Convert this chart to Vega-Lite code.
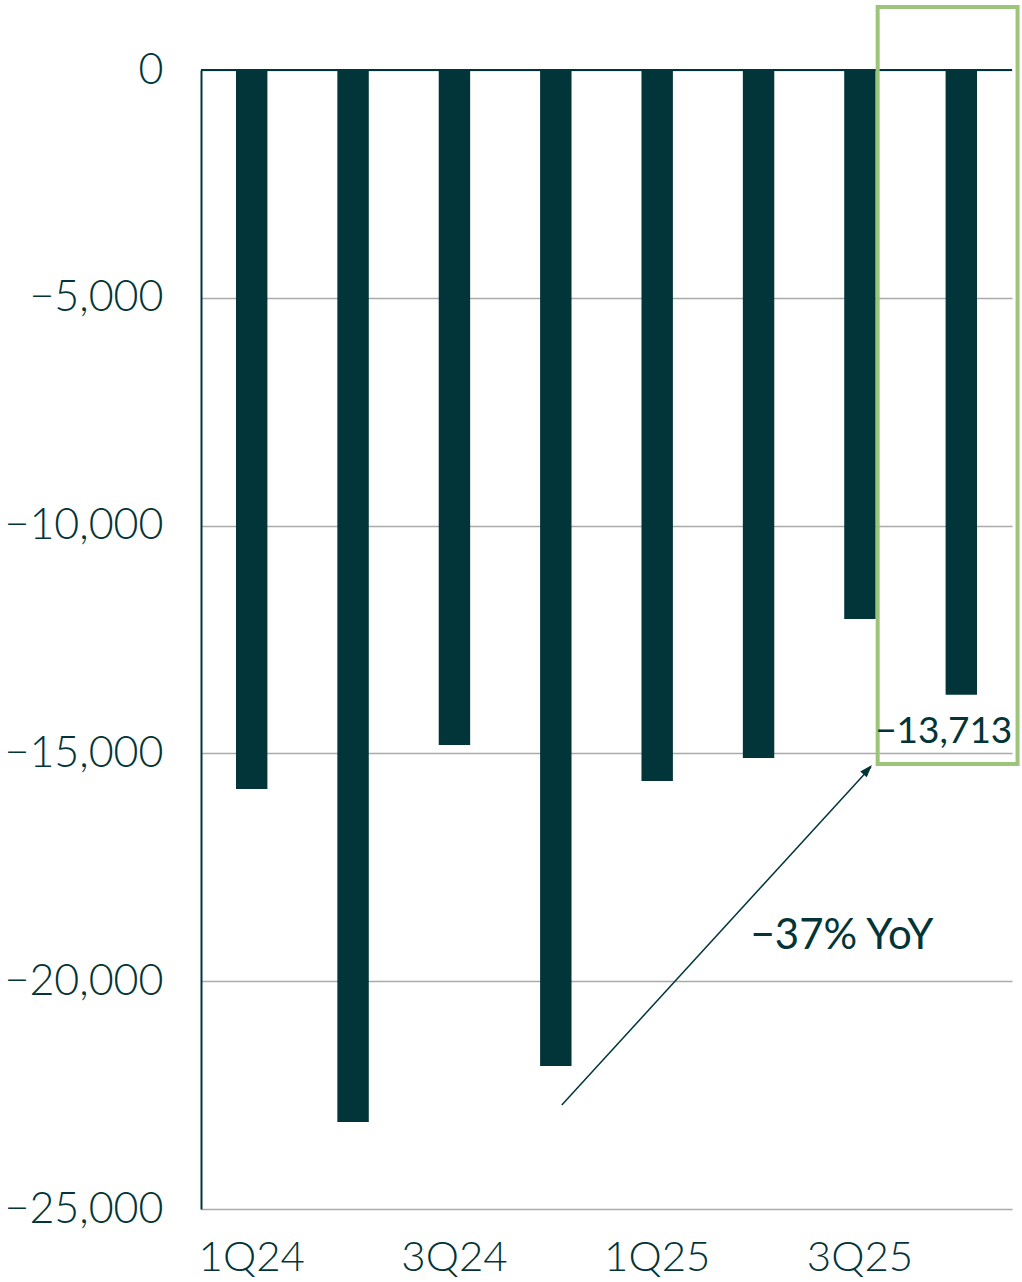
{
  "$schema": "https://vega.github.io/schema/vega-lite/v6.json",
  "autosize": {"type": "none"},
  "padding": {"left": 201, "top": 70, "right": 10, "bottom": 73},
  "width": 811,
  "height": 1139,
  "background": "white",
  "config": {
    "view": {"stroke": null},
    "font": "Lato",
    "text": {"font": "Lato"}
  },
  "data": {
    "values": [
      {"quarter": "1Q24", "value": -15780},
      {"quarter": "2Q24", "value": -23090},
      {"quarter": "3Q24", "value": -14815},
      {"quarter": "4Q24", "value": -21860},
      {"quarter": "1Q25", "value": -15605},
      {"quarter": "2Q25", "value": -15100},
      {"quarter": "3Q25", "value": -12050},
      {"quarter": "4Q25", "value": -13713}
    ]
  },
  "encoding": {
    "x": {
      "field": "quarter",
      "type": "nominal",
      "sort": null,
      "scale": {"paddingInner": 0, "paddingOuter": 0},
      "axis": {
        "title": null,
        "domain": false,
        "ticks": false,
        "labelAngle": 0,
        "labelFontSize": 42,
        "labelFont": "Lato",
        "labelFontWeight": 300,
        "labelColor": "#033538",
        "labelPadding": 28,
        "labelExpr": "indexof(['1Q24','3Q24','1Q25','3Q25'], datum.value) >= 0 ? datum.value : ''"
      }
    }
  },
  "layer": [
    {
      "mark": {"type": "bar", "color": "#01353A", "width": {"band": 0.31}},
      "encoding": {
        "y": {
          "field": "value",
          "type": "quantitative",
          "scale": {"domain": [-25000, 0], "nice": false},
          "axis": {
            "title": null,
            "values": [0, -5000, -10000, -15000, -20000, -25000],
            "format": ",.0f",
            "ticks": false,
            "domainColor": "#01353A",
            "domainWidth": 2,
            "gridColor": "#aaaaaa",
            "gridWidth": 1.5,
            "labelFontSize": 43,
            "labelFont": "Lato",
            "labelFontWeight": 300,
            "labelColor": "#033538",
            "labelPadding": 38
          }
        }
      }
    },
    {
      "data": {"values": [{"y": 0}]},
      "mark": {"type": "rule", "color": "#01353A", "strokeWidth": 2},
      "encoding": {"y": {"field": "y", "type": "quantitative"}, "x": {"value": 0}, "x2": {"value": 811}}
    },
    {
      "data": {"values": [{"quarter": "4Q25", "top": 1383, "bottom": -15233}]},
      "mark": {"type": "bar", "width": {"band": 1.38}, "xOffset": -13.7, "fill": "white", "fillOpacity": 0, "stroke": "#9DC57A", "strokeWidth": 4, "clip": false},
      "encoding": {
        "x": {"field": "quarter", "type": "nominal", "sort": null},
        "y": {"field": "top", "type": "quantitative"},
        "y2": {"field": "bottom"}
      }
    },
    {
      "data": {"values": [{"quarter": "4Q25", "value": -13713, "label": "−13,713"}]},
      "mark": {"type": "text", "align": "right", "baseline": "middle", "dx": 51, "dy": 37, "fontSize": 37, "fontWeight": 400, "font": "Lato", "color": "#033538"},
      "encoding": {
        "x": {"field": "quarter", "type": "nominal", "sort": null},
        "y": {"field": "value", "type": "quantitative"},
        "text": {"field": "label"}
      }
    },
    {
      "data": {"values": [{"from": "4Q24", "to": "3Q25", "y1": -22717, "y2": -15300}]},
      "mark": {"type": "rule", "color": "#01353A", "strokeWidth": 1.5, "xOffset": 6, "x2Offset": 11},
      "encoding": {
        "x": {"field": "from", "type": "nominal", "sort": null},
        "x2": {"field": "to"},
        "y": {"field": "y1", "type": "quantitative"},
        "y2": {"field": "y2"}
      }
    },
    {
      "data": {"values": [{"quarter": "3Q25", "y": -15255}]},
      "mark": {"type": "point", "shape": "M0,0L-0.55,1.6L0.55,1.6Z", "filled": true, "color": "#01353A", "size": 250, "angle": 42, "opacity": 1, "xOffset": 12},
      "encoding": {
        "x": {"field": "quarter", "type": "nominal", "sort": null},
        "y": {"field": "y", "type": "quantitative"}
      }
    },
    {
      "data": {"values": [{"quarter": "3Q25", "y": -19000, "label": "−37% YoY"}]},
      "mark": {"type": "text", "align": "center", "baseline": "middle", "dx": -18, "fontSize": 42, "fontWeight": 400, "font": "Lato", "color": "#033538"},
      "encoding": {
        "x": {"field": "quarter", "type": "nominal", "sort": null},
        "y": {"field": "y", "type": "quantitative"},
        "text": {"field": "label"}
      }
    }
  ]
}
